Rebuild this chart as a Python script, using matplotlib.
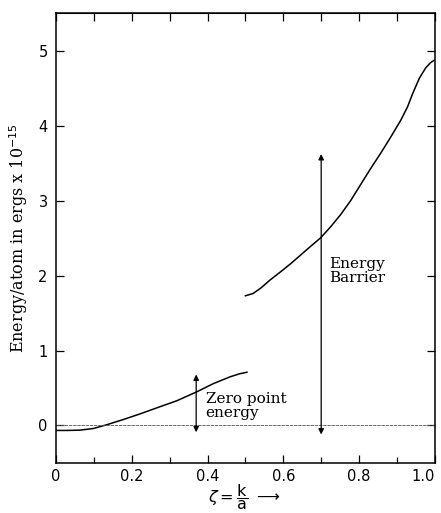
import numpy as np
import matplotlib.pyplot as plt
from matplotlib.ticker import MultipleLocator

# lower curve (zero point region)
zeta_low = [0.0, 0.03, 0.063, 0.099, 0.134, 0.178, 0.222, 0.266, 0.319, 0.372, 0.416, 0.46, 0.485, 0.504]
e_low = [-0.066, -0.066, -0.062, -0.04, 0.01, 0.08, 0.155, 0.235, 0.33, 0.45, 0.56, 0.65, 0.69, 0.71]

# upper curve (barrier region)
zeta_high = [0.500, 0.52, 0.54, 0.565, 0.593, 0.62, 0.645, 0.67, 0.698, 0.725, 0.751, 0.778,
             0.805, 0.831, 0.857, 0.884, 0.91, 0.928, 0.941, 0.959, 0.976, 0.989, 0.998]
e_high = [1.73, 1.76, 1.83, 1.94, 2.05, 2.16, 2.27, 2.38, 2.50, 2.65, 2.81, 3.00,
          3.22, 3.43, 3.63, 3.85, 4.07, 4.25, 4.42, 4.63, 4.77, 4.84, 4.87]

zp_arrow = (0.37, -0.09, 0.68)
barrier_arrow = (0.70, -0.12, 3.62)

plt.rcParams['font.family'] = 'DejaVu Sans'
fig = plt.figure(figsize=(4.41, 5.13), dpi=100)
ax = fig.add_axes([0.127, 0.0975, 0.859, 0.877])

ax.plot(zeta_low, e_low, color='black', lw=1.1)
ax.plot(zeta_high, e_high, color='black', lw=1.1)
ax.axhline(0, color='#555555', lw=0.6, ls=(0, (4, 1)))

for x, y0, y1 in [zp_arrow, barrier_arrow]:
    ax.annotate('', xy=(x, y1), xytext=(x, y0),
                arrowprops=dict(arrowstyle='<|-|>', color='black', lw=0.9,
                                mutation_scale=8, shrinkA=0, shrinkB=0))

ax.text(0.395, 0.26, 'Zero point\nenergy', family='DejaVu Serif', fontsize=11,
        va='center', ha='left', linespacing=0.95)
ax.text(0.72, 2.06, 'Energy\nBarrier', family='DejaVu Serif', fontsize=11,
        va='center', ha='left', linespacing=0.95)

ax.set_xlim(0, 1.0)
ax.set_ylim(-0.5, 5.5)
ax.set_xticks([0, 0.2, 0.4, 0.6, 0.8, 1.0])
ax.set_xticklabels(['0', '0.2', '0.4', '0.6', '0.8', '1.0'])
ax.xaxis.set_minor_locator(MultipleLocator(0.1))
ax.set_yticks([0, 1, 2, 3, 4, 5])
ax.tick_params(which='major', direction='in', length=6, width=0.9, labelsize=10.5)
ax.tick_params(which='minor', direction='in', length=4, width=0.9)
ax.tick_params(axis='y', right=True, pad=6)
ax.tick_params(axis='x', pad=4)
ax.get_xticklabels()[-1].set_horizontalalignment('right')

sec = ax.secondary_xaxis('top')
sec.set_xticks(np.arange(0, 1.01, 0.1))
sec.tick_params(direction='in', length=6, width=0.9, labeltop=False)

for s in ax.spines.values():
    s.set_linewidth(1.1)

ax.set_ylabel(r'Energy/atom in ergs x 10$^{-15}$', family='DejaVu Serif', fontsize=11.5, labelpad=6)
fig.text(0.555, 0.031, r'$\zeta = \dfrac{\mathrm{k}}{\mathrm{a}}$ $\longrightarrow$',
         fontsize=11.5, ha='center', va='center')

fig.savefig('out.png', dpi=100)
